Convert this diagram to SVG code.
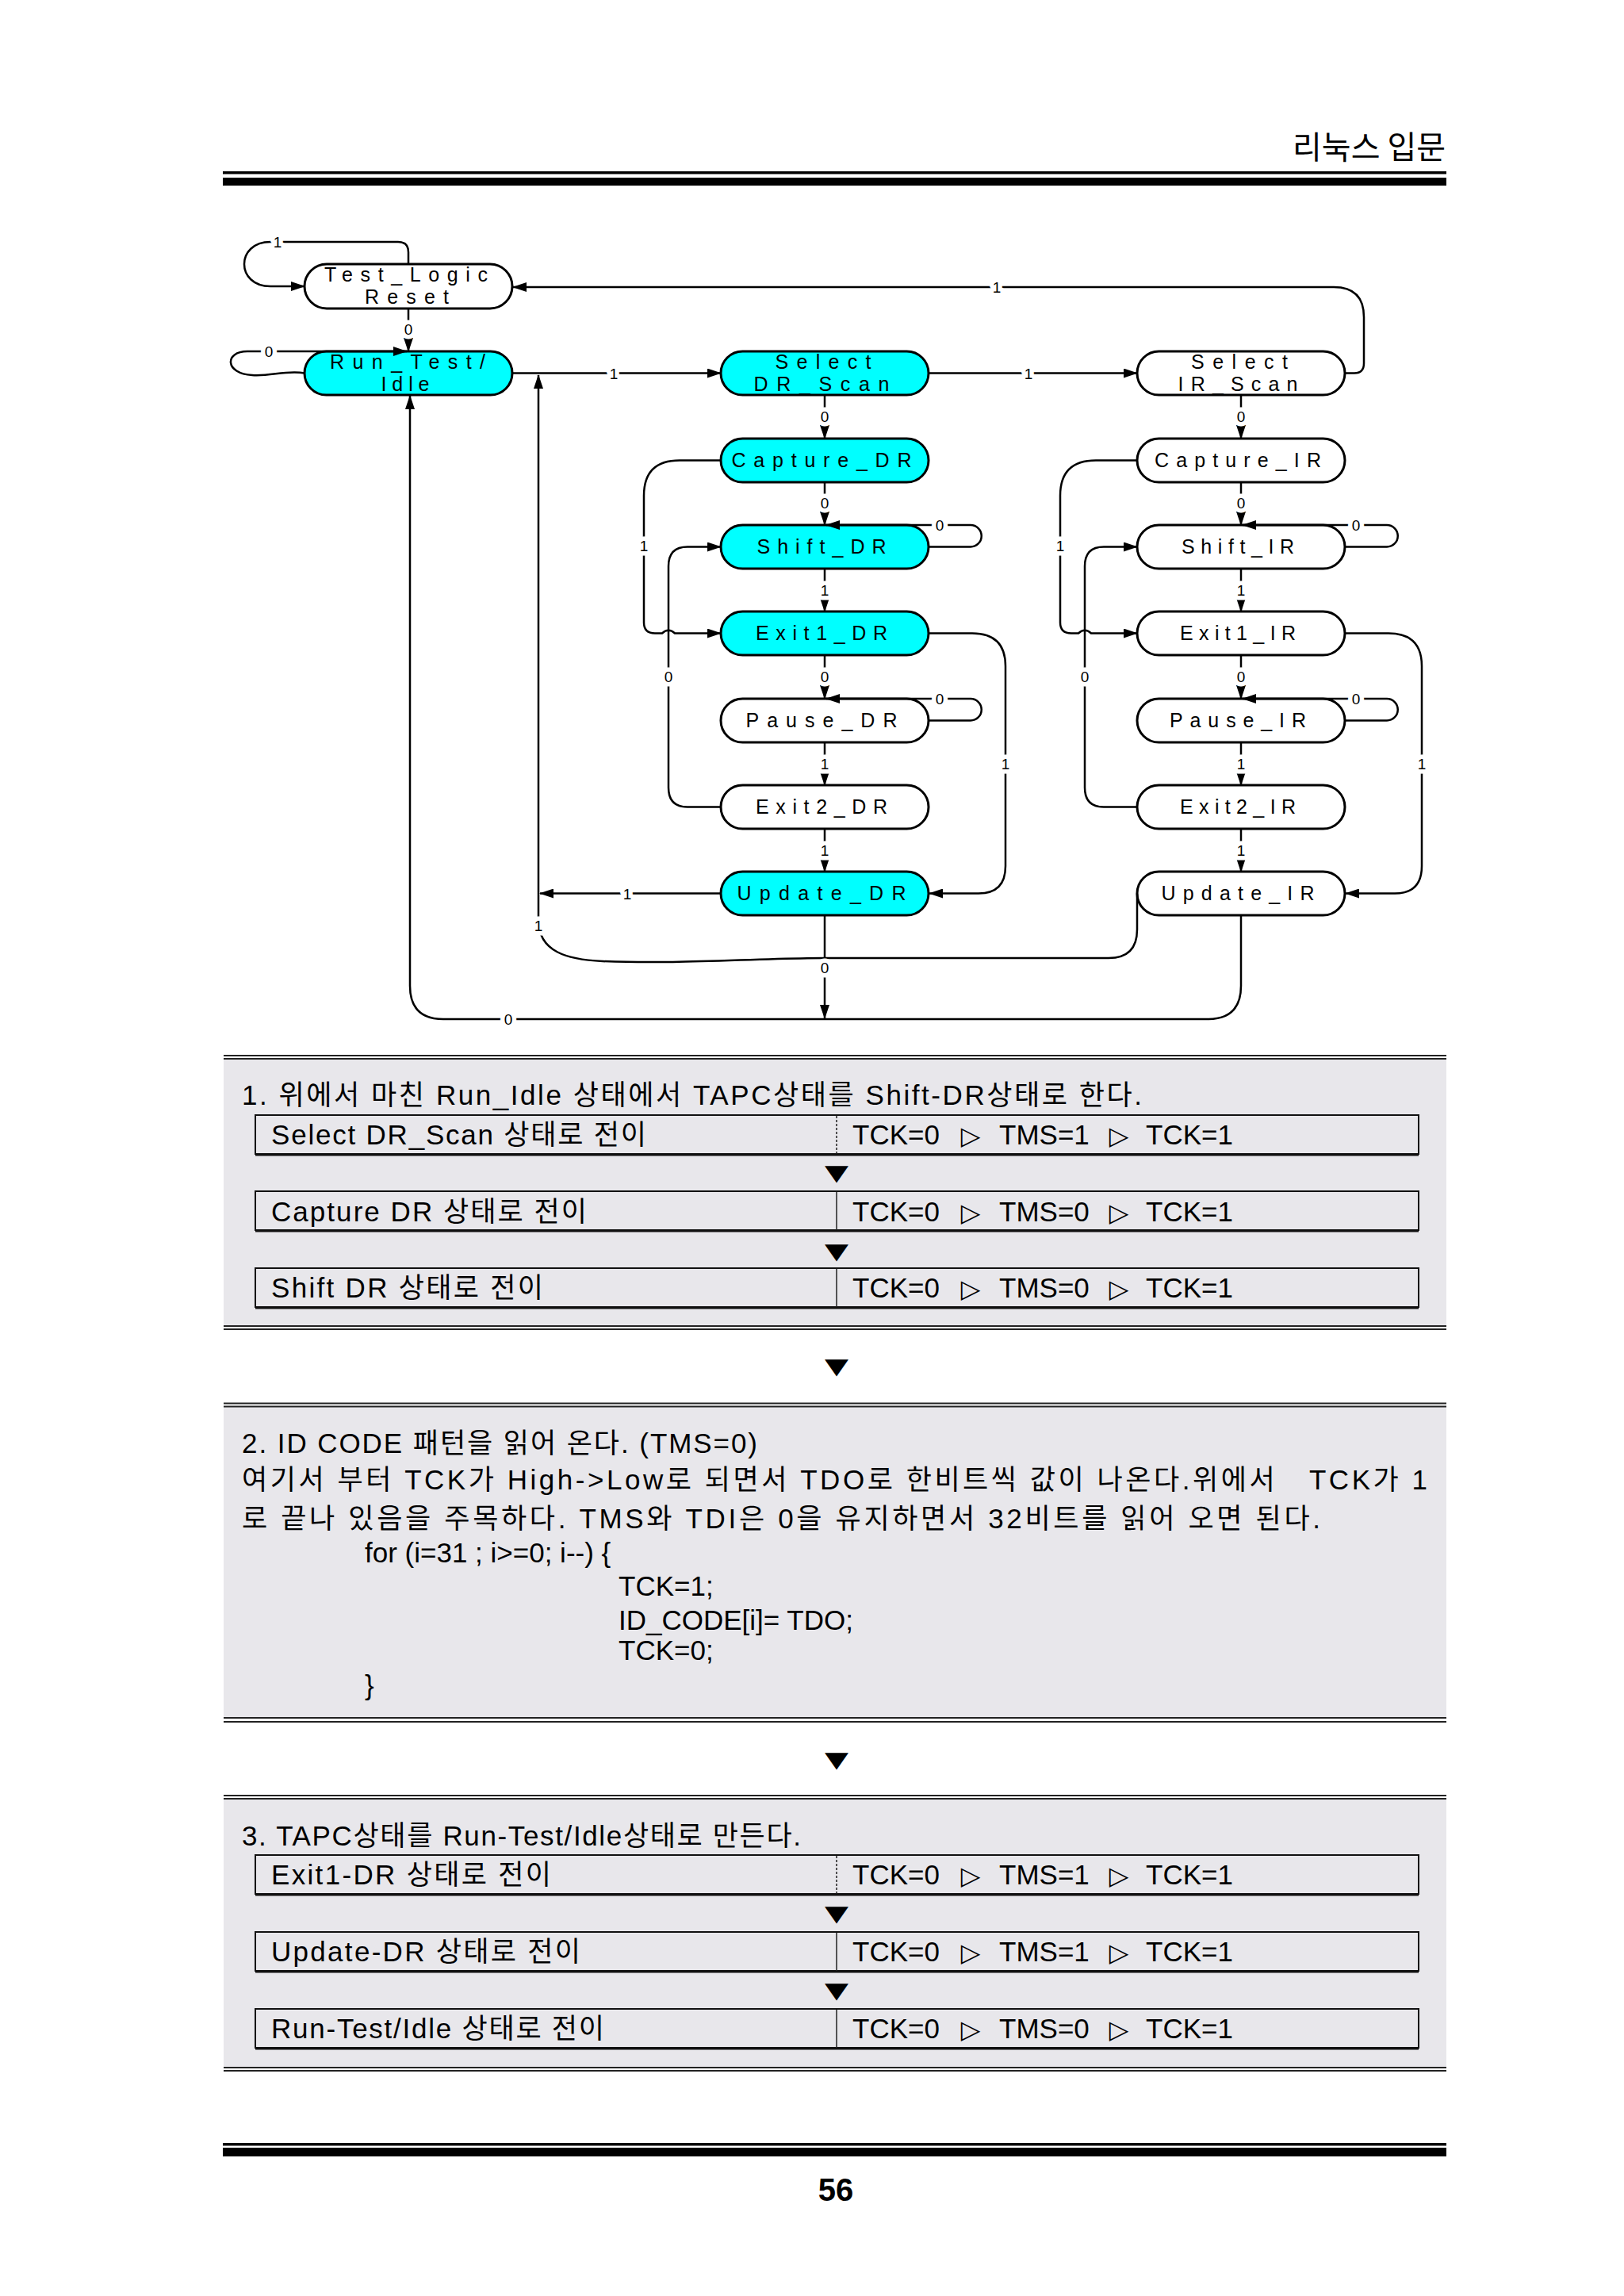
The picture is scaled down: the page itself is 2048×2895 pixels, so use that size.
<svg xmlns="http://www.w3.org/2000/svg" width="2048" height="2895" viewBox="0 0 2048 2895">
<style>
.nd{stroke:#000;stroke-width:3}
.c{fill:#00FFFF}
.w{fill:#fff}
.nt{font-family:"Liberation Sans",Arial,sans-serif;font-size:25px;text-anchor:middle;fill:#000}
.e{fill:none;stroke:#000;stroke-width:2.5;marker-end:url(#ah)}
.lb{font-family:"Liberation Sans",Arial,sans-serif;font-size:19px;text-anchor:middle;fill:#000;stroke:#fff;stroke-width:11px;paint-order:stroke;stroke-linejoin:round}
.tx{font-family:"Liberation Sans","Noto Sans CJK KR",sans-serif;font-size:35px;fill:#000}
.sym{font-family:"DejaVu Sans",sans-serif;fill:#000;text-anchor:middle}
.tri{font-family:"DejaVu Sans",sans-serif;fill:#000;text-anchor:middle;font-size:32px}
.box{fill:#E8E7EB}
.dl{stroke:#222;stroke-width:2}
.row{fill:none;stroke:#111;stroke-width:2}
.rowb{stroke:#111;stroke-width:2}
.dv{stroke:#222;stroke-width:1.5}
.dvd{stroke:#222;stroke-width:1.5;stroke-dasharray:3 2}
</style>
<defs>
<marker id="ah" markerUnits="userSpaceOnUse" markerWidth="18" markerHeight="12" refX="17" refY="6" orient="auto" viewBox="0 0 18 12"><path d="M0,0 L18,6 L0,12 z" fill="#000"/></marker>
</defs>
<rect x="0" y="0" width="2048" height="2895" fill="#fff"/>

<g id="header">
<text x="1823" y="200" font-family="Noto Sans CJK KR, sans-serif" font-size="40" text-anchor="end" fill="#000">리눅스 입문</text>
<rect x="281" y="216" width="1543" height="3.5" fill="#000"/>
<rect x="281" y="224" width="1543" height="10" fill="#000"/>
</g>

<g id="node-test-logic-reset"><rect class="nd w" x="384" y="333" width="262" height="56" rx="28"/><text class="nt" x="512" y="355" textLength="206" lengthAdjust="spacing">Test_Logic</text><text class="nt" x="513" y="383" textLength="106" lengthAdjust="spacing">Reset</text></g>
<g id="node-run-test-idle"><rect class="nd c" x="384" y="443" width="262" height="55" rx="27.5"/><text class="nt" x="514" y="465" textLength="196" lengthAdjust="spacing">Run_Test/</text><text class="nt" x="511" y="493" textLength="61" lengthAdjust="spacing">Idle</text></g>
<g id="node-select-dr-scan"><rect class="nd c" x="909" y="443" width="262" height="55" rx="27.5"/><text class="nt" x="1038" y="465" textLength="121" lengthAdjust="spacing">Select</text><text class="nt" x="1036" y="493" textLength="171" lengthAdjust="spacing">DR_Scan</text></g>
<g id="node-capture-dr"><rect class="nd c" x="909" y="553" width="262" height="55" rx="27.5"/><text class="nt" x="1036" y="589" textLength="227" lengthAdjust="spacing">Capture_DR</text></g>
<g id="node-shift-dr"><rect class="nd c" x="909" y="662" width="262" height="55" rx="27.5"/><text class="nt" x="1036" y="698" textLength="163" lengthAdjust="spacing">Shift_DR</text></g>
<g id="node-exit1-dr"><rect class="nd c" x="909" y="771" width="262" height="55" rx="27.5"/><text class="nt" x="1036" y="807" textLength="166" lengthAdjust="spacing">Exit1_DR</text></g>
<g id="node-pause-dr"><rect class="nd w" x="909" y="881" width="262" height="55" rx="27.5"/><text class="nt" x="1036" y="917" textLength="191" lengthAdjust="spacing">Pause_DR</text></g>
<g id="node-exit2-dr"><rect class="nd w" x="909" y="990" width="262" height="55" rx="27.5"/><text class="nt" x="1036" y="1026" textLength="166" lengthAdjust="spacing">Exit2_DR</text></g>
<g id="node-update-dr"><rect class="nd c" x="909" y="1099" width="262" height="55" rx="27.5"/><text class="nt" x="1036" y="1135" textLength="213" lengthAdjust="spacing">Update_DR</text></g>

<g id="node-select-ir-scan"><rect class="nd w" x="1434" y="443" width="262" height="55" rx="27.5"/><text class="nt" x="1563" y="465" textLength="122" lengthAdjust="spacing">Select</text><text class="nt" x="1561" y="493" textLength="151" lengthAdjust="spacing">IR_Scan</text></g>
<g id="node-capture-ir"><rect class="nd w" x="1434" y="553" width="262" height="55" rx="27.5"/><text class="nt" x="1561" y="589" textLength="210" lengthAdjust="spacing">Capture_IR</text></g>
<g id="node-shift-ir"><rect class="nd w" x="1434" y="662" width="262" height="55" rx="27.5"/><text class="nt" x="1561" y="698" textLength="142" lengthAdjust="spacing">Shift_IR</text></g>
<g id="node-exit1-ir"><rect class="nd w" x="1434" y="771" width="262" height="55" rx="27.5"/><text class="nt" x="1561" y="807" textLength="146" lengthAdjust="spacing">Exit1_IR</text></g>
<g id="node-pause-ir"><rect class="nd w" x="1434" y="881" width="262" height="55" rx="27.5"/><text class="nt" x="1561" y="917" textLength="172" lengthAdjust="spacing">Pause_IR</text></g>
<g id="node-exit2-ir"><rect class="nd w" x="1434" y="990" width="262" height="55" rx="27.5"/><text class="nt" x="1561" y="1026" textLength="146" lengthAdjust="spacing">Exit2_IR</text></g>
<g id="node-update-ir"><rect class="nd w" x="1434" y="1099" width="262" height="55" rx="27.5"/><text class="nt" x="1561" y="1135" textLength="193" lengthAdjust="spacing">Update_IR</text></g>

<g id="connectors">
<path class="e" d="M515 333 V318 Q515 305 502 305 H341 C297 305 297 361 341 361 H384"/>
<path class="e" d="M515 389 V443"/>
<path class="e" d="M384 470.5 C362 466 340 475 318 473 C283 471 283 443 312 443 H513"/>
<path class="e" d="M646 470.5 H909"/>
<path class="e" d="M1171 470.5 H1434"/>
<path class="e" d="M1696 470.5 H1708 Q1720 470.5 1720 458 V400 Q1720 362 1682 362 H647"/>
<path class="e" d="M1040 498 V553"/>
<path class="e" d="M1040 608 V662"/>
<path class="e" d="M1040 717 V771"/>
<path class="e" d="M1040 826 V881"/>
<path class="e" d="M1040 936 V990"/>
<path class="e" d="M1040 1045 V1099"/>
<path class="e" d="M1171 689.5 H1224 A13.75 13.75 0 0 0 1224 662 H1042"/>
<path class="e" d="M1171 908.5 H1224 A13.75 13.75 0 0 0 1224 881 H1042"/>
<path class="e" d="M909 580.5 H857 Q812 580.5 812 625 V785 Q812 798.5 826 798.5 H835 Q843 791 851 798.5 H909"/>
<path class="e" d="M909 1017.5 H867 Q843 1017.5 843 993 V714 Q843 689.5 867 689.5 H909"/>
<path class="e" d="M1171 798.5 H1226 Q1268 798.5 1268 840 V1092 Q1268 1126.5 1234 1126.5 H1172"/>
<path class="e" d="M909 1126.5 H681"/>
<path class="e" d="M1040 1154 V1284"/>
<path class="e" d="M1565 498 V553"/>
<path class="e" d="M1565 608 V662"/>
<path class="e" d="M1565 717 V771"/>
<path class="e" d="M1565 826 V881"/>
<path class="e" d="M1565 936 V990"/>
<path class="e" d="M1565 1045 V1099"/>
<path class="e" d="M1696 689.5 H1749 A13.75 13.75 0 0 0 1749 662 H1567"/>
<path class="e" d="M1696 908.5 H1749 A13.75 13.75 0 0 0 1749 881 H1567"/>
<path class="e" d="M1434 580.5 H1382 Q1337 580.5 1337 625 V785 Q1337 798.5 1351 798.5 H1360 Q1368 791 1376 798.5 H1434"/>
<path class="e" d="M1434 1017.5 H1392 Q1368 1017.5 1368 993 V714 Q1368 689.5 1392 689.5 H1434"/>
<path class="e" d="M1696 798.5 H1751 Q1793 798.5 1793 840 V1092 Q1793 1126.5 1759 1126.5 H1697"/>
<path class="e" d="M1434 1126.5 V1172 Q1434 1208 1398 1208 H1040 C950 1208 860 1216 760 1212 C715 1210 679 1200 679 1160 V473"/>
<path class="e" d="M1565 1154 V1243 Q1565 1285 1523 1285 H559 Q517 1285 517 1243 V499"/>
<text class="lb" x="350" y="312">1</text>
<text class="lb" x="515" y="422">0</text>
<text class="lb" x="339" y="450">0</text>
<text class="lb" x="774" y="478">1</text>
<text class="lb" x="1297" y="478">1</text>
<text class="lb" x="1257" y="369">1</text>
<text class="lb" x="1040" y="532">0</text>
<text class="lb" x="1040" y="641">0</text>
<text class="lb" x="1040" y="751">1</text>
<text class="lb" x="1040" y="860">0</text>
<text class="lb" x="1040" y="970">1</text>
<text class="lb" x="1040" y="1079">1</text>
<text class="lb" x="1185" y="669">0</text>
<text class="lb" x="1185" y="888">0</text>
<text class="lb" x="812" y="695">1</text>
<text class="lb" x="843" y="860">0</text>
<text class="lb" x="1268" y="970">1</text>
<text class="lb" x="791" y="1134">1</text>
<text class="lb" x="1040" y="1227">0</text>
<text class="lb" x="1565" y="532">0</text>
<text class="lb" x="1565" y="641">0</text>
<text class="lb" x="1565" y="751">1</text>
<text class="lb" x="1565" y="860">0</text>
<text class="lb" x="1565" y="970">1</text>
<text class="lb" x="1565" y="1079">1</text>
<text class="lb" x="1710" y="669">0</text>
<text class="lb" x="1710" y="888">0</text>
<text class="lb" x="1337" y="695">1</text>
<text class="lb" x="1368" y="860">0</text>
<text class="lb" x="1793" y="970">1</text>
<text class="lb" x="679" y="1174">1</text>
<text class="lb" x="641" y="1292">0</text>
</g>

<g id="box1">
<rect class="box" x="282" y="1335" width="1542" height="337"/>
<line class="dl" x1="282" y1="1331" x2="1824" y2="1331"/>
<line class="dl" x1="282" y1="1335" x2="1824" y2="1335"/>
<line class="dl" x1="282" y1="1672" x2="1824" y2="1672"/>
<line class="dl" x1="282" y1="1676" x2="1824" y2="1676"/>
<text class="tx" x="305" y="1393" textLength="1135" lengthAdjust="spacing">1. 위에서 마친 Run_Idle 상태에서 TAPC상태를 Shift-DR상태로 한다.</text>
<g id="row1-1"><rect class="row" x="322" y="1406" width="1467" height="49"/><line class="rowb" x1="322" y1="1456.5" x2="1789" y2="1456.5"/><line class="dvd" x1="1055" y1="1407" x2="1055" y2="1455"/>
<text class="tx" x="342" y="1443" textLength="473" lengthAdjust="spacing">Select DR_Scan 상태로 전이</text>
<text class="tx" x="1075" y="1443">TCK=0</text><text class="tri" x="1224" y="1443">▷</text><text class="tx" x="1260" y="1443">TMS=1</text><text class="tri" x="1411" y="1443">▷</text><text class="tx" x="1445" y="1443">TCK=1</text></g>
<text class="sym" font-size="30" transform="translate(1055 1488) scale(1.3 0.92)">▼</text>
<g id="row1-2"><rect class="row" x="322" y="1502" width="1467" height="49"/><line class="rowb" x1="322" y1="1552.5" x2="1789" y2="1552.5"/><line class="dv" x1="1055" y1="1503" x2="1055" y2="1551"/>
<text class="tx" x="342" y="1540" textLength="398" lengthAdjust="spacing">Capture DR 상태로 전이</text>
<text class="tx" x="1075" y="1540">TCK=0</text><text class="tri" x="1224" y="1540">▷</text><text class="tx" x="1260" y="1540">TMS=0</text><text class="tri" x="1411" y="1540">▷</text><text class="tx" x="1445" y="1540">TCK=1</text></g>
<text class="sym" font-size="30" transform="translate(1055 1587) scale(1.3 0.92)">▼</text>
<g id="row1-3"><rect class="row" x="322" y="1599" width="1467" height="49"/><line class="rowb" x1="322" y1="1649.5" x2="1789" y2="1649.5"/><line class="dv" x1="1055" y1="1600" x2="1055" y2="1648"/>
<text class="tx" x="342" y="1636" textLength="343" lengthAdjust="spacing">Shift DR 상태로 전이</text>
<text class="tx" x="1075" y="1636">TCK=0</text><text class="tri" x="1224" y="1636">▷</text><text class="tx" x="1260" y="1636">TMS=0</text><text class="tri" x="1411" y="1636">▷</text><text class="tx" x="1445" y="1636">TCK=1</text></g>
</g>

<text class="sym" font-size="30" transform="translate(1055 1732) scale(1.3 0.92)">▼</text>

<g id="box2">
<rect class="box" x="282" y="1773" width="1542" height="393"/>
<line class="dl" x1="282" y1="1769.5" x2="1824" y2="1769.5"/>
<line class="dl" x1="282" y1="1773.5" x2="1824" y2="1773.5"/>
<line class="dl" x1="282" y1="2166" x2="1824" y2="2166"/>
<line class="dl" x1="282" y1="2171" x2="1824" y2="2171"/>
<text class="tx" x="305" y="1832" textLength="650" lengthAdjust="spacing">2. ID CODE 패턴을 읽어 온다. (TMS=0)</text>
<text class="tx" x="305" y="1878" textLength="1495" lengthAdjust="spacing" style="white-space:pre">여기서 부터 TCK가 High-&gt;Low로 되면서 TDO로 한비트씩 값이 나온다.위에서   TCK가 1</text>
<text class="tx" x="305" y="1927" textLength="1360" lengthAdjust="spacing">로 끝나 있음을 주목하다. TMS와 TDI은 0을 유지하면서 32비트를 읽어 오면 된다.</text>
<text class="tx" x="460" y="1970">for (i=31 ; i&gt;=0; i--) {</text>
<text class="tx" x="780" y="2012">TCK=1;</text>
<text class="tx" x="780" y="2055">ID_CODE[i]= TDO;</text>
<text class="tx" x="780" y="2093">TCK=0;</text>
<text class="tx" x="460" y="2137">}</text>
</g>

<text class="sym" font-size="30" transform="translate(1055 2228) scale(1.3 0.92)">▼</text>

<g id="box3">
<rect class="box" x="282" y="2268" width="1542" height="339"/>
<line class="dl" x1="282" y1="2264" x2="1824" y2="2264"/>
<line class="dl" x1="282" y1="2268" x2="1824" y2="2268"/>
<line class="dl" x1="282" y1="2607" x2="1824" y2="2607"/>
<line class="dl" x1="282" y1="2611" x2="1824" y2="2611"/>
<text class="tx" x="305" y="2327" textLength="705" lengthAdjust="spacing">3. TAPC상태를 Run-Test/Idle상태로 만든다.</text>
<g id="row3-1"><rect class="row" x="322" y="2339" width="1467" height="49"/><line class="rowb" x1="322" y1="2389.5" x2="1789" y2="2389.5"/><line class="dvd" x1="1055" y1="2340" x2="1055" y2="2388"/>
<text class="tx" x="342" y="2376" textLength="353" lengthAdjust="spacing">Exit1-DR 상태로 전이</text>
<text class="tx" x="1075" y="2376">TCK=0</text><text class="tri" x="1224" y="2376">▷</text><text class="tx" x="1260" y="2376">TMS=1</text><text class="tri" x="1411" y="2376">▷</text><text class="tx" x="1445" y="2376">TCK=1</text></g>
<text class="sym" font-size="30" transform="translate(1055 2422) scale(1.3 0.92)">▼</text>
<g id="row3-2"><rect class="row" x="322" y="2436" width="1467" height="49"/><line class="rowb" x1="322" y1="2486.5" x2="1789" y2="2486.5"/><line class="dv" x1="1055" y1="2437" x2="1055" y2="2485"/>
<text class="tx" x="342" y="2473" textLength="390" lengthAdjust="spacing">Update-DR 상태로 전이</text>
<text class="tx" x="1075" y="2473">TCK=0</text><text class="tri" x="1224" y="2473">▷</text><text class="tx" x="1260" y="2473">TMS=1</text><text class="tri" x="1411" y="2473">▷</text><text class="tx" x="1445" y="2473">TCK=1</text></g>
<text class="sym" font-size="30" transform="translate(1055 2519) scale(1.3 0.92)">▼</text>
<g id="row3-3"><rect class="row" x="322" y="2533" width="1467" height="49"/><line class="rowb" x1="322" y1="2583.5" x2="1789" y2="2583.5"/><line class="dv" x1="1055" y1="2534" x2="1055" y2="2582"/>
<text class="tx" x="342" y="2570" textLength="420" lengthAdjust="spacing">Run-Test/Idle 상태로 전이</text>
<text class="tx" x="1075" y="2570">TCK=0</text><text class="tri" x="1224" y="2570">▷</text><text class="tx" x="1260" y="2570">TMS=0</text><text class="tri" x="1411" y="2570">▷</text><text class="tx" x="1445" y="2570">TCK=1</text></g>
</g>

<g id="footer">
<rect x="281" y="2702" width="1543" height="3.5" fill="#000"/>
<rect x="281" y="2708" width="1543" height="11" fill="#000"/>
<text x="1054" y="2775" font-family="Liberation Sans, Arial, sans-serif" font-size="40" font-weight="bold" text-anchor="middle" fill="#000">56</text>
</g>
</svg>
